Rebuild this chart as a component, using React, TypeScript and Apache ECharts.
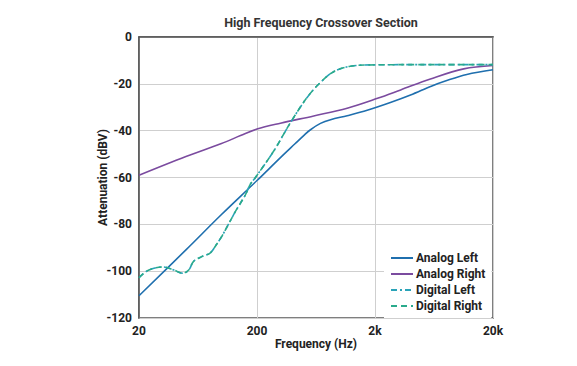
import React, { useEffect, useRef } from "react";
import * as echarts from "echarts";

const title = "High Frequency Crossover Section";
const xTickLabels = ["20", "200", "2k", "20k"];
const seriesNames = ["Analog Left", "Analog Right", "Digital Left", "Digital Right"];

const analogLeftHz = [20, 50, 100, 200, 316, 420, 500, 568, 690, 840, 1162, 1718, 2700, 4000, 6000, 8000, 12000, 20000];
const analogLeftDb = [-110.5, -90.9, -75.8, -61.3, -51.5, -45.6, -42, -39.6, -36.9, -35.3, -33.6, -31.3, -28, -24.8, -21, -18.7, -16, -14];

const analogRightHz = [20, 50, 100, 145, 200, 316, 605, 1162, 2100, 3300, 5900, 11300, 20000];
const analogRightDb = [-59, -51, -45.5, -42.1, -39.3, -36.8, -33.7, -30.4, -26.2, -22.6, -17.9, -13.6, -12.2];

const digitalHz = [20, 24, 32, 39, 47, 53, 58, 68, 80, 91, 101, 131, 159, 176, 194, 278, 385, 532, 690, 900, 1233, 2000, 5000, 20000];
const digitalLeftDb = [-102.8, -99.6, -98.2, -99.4, -100.9, -99.4, -95.8, -93.8, -92.3, -88.5, -85, -74.6, -67.5, -62.8, -60, -48.6, -36.5, -25.8, -19.4, -14.7, -12.5, -11.9, -11.8, -11.8];
const digitalRightDb = [-102.8, -99.6, -98.2, -99.4, -100.9, -99.4, -95.8, -93.8, -92.3, -88.5, -85, -74.6, -67.5, -62.8, -60, -48.6, -36.5, -25.8, -19.4, -14.7, -12.5, -11.9, -11.8, -11.8];

const toPts = (hz: number[], db: number[]) => hz.map((f, i) => [Math.log10(f / 20), db[i]]);

const FONT = "Roboto";

export default function App() {
  const ref = useRef<HTMLDivElement>(null);
  useEffect(() => {
    if (!ref.current) return;
    const chart = echarts.init(ref.current, null, { renderer: "svg" });
    const labelStyle = { fontFamily: FONT, fontWeight: "bold" as const, fontSize: 12, color: "#222" };
    chart.setOption({
      animation: false,
      backgroundColor: "#fff",
      title: {
        text: title,
        left: 316,
        top: 11,
        textAlign: "center",
        textStyle: { fontFamily: FONT, fontWeight: "bold", fontSize: 12.5, color: "#333" },
      },
      grid: {
        left: 139,
        right: 84,
        top: 37,
        bottom: 48,
        show: true,
        borderColor: "#555",
        borderWidth: 1.5,
      },
      xAxis: {
        type: "value",
        min: 0,
        max: 3,
        interval: 1,
        name: "Frequency (Hz)",
        nameLocation: "middle",
        nameGap: 20,
        nameMoveOverlap: false,
        nameTextStyle: { ...labelStyle },
        axisLine: { show: true, lineStyle: { color: "#555", width: 1.5 } },
        axisTick: { show: false },
        axisLabel: { ...labelStyle, margin: 7, formatter: (v: number) => xTickLabels[Math.round(v)] },
        splitLine: { show: true, lineStyle: { color: "#cfcfcf", width: 1 } },
      },
      yAxis: {
        type: "value",
        min: -120,
        max: 0,
        interval: 20,
        name: "Attenuation (dBV)",
        nameLocation: "middle",
        nameGap: 30,
        nameMoveOverlap: false,
        nameTextStyle: { ...labelStyle },
        axisLine: { show: true, lineStyle: { color: "#555", width: 1.5 } },
        axisTick: { show: false },
        axisLabel: { ...labelStyle, margin: 7 },
        splitLine: { show: true, lineStyle: { color: "#cfcfcf", width: 1 } },
      },
      legend: {
        orient: "vertical",
        left: 384,
        top: 249,
        data: seriesNames,
        itemWidth: 22,
        itemHeight: 10,
        itemGap: 4,
        backgroundColor: "#fff",
        padding: [3, 6, 6, 6],
        itemStyle: { opacity: 0 },
        textStyle: { ...labelStyle, lineHeight: 11, padding: [0, 0, 0, -2] },
      },
      series: [
        {
          name: seriesNames[0],
          type: "line",
          data: toPts(analogLeftHz, analogLeftDb),
          smooth: 0.35,
          symbol: "none",
          lineStyle: { color: "#1f6fae", width: 1.6 },
          itemStyle: { color: "#1f6fae" },
          z: 3,
        },
        {
          name: seriesNames[1],
          type: "line",
          data: toPts(analogRightHz, analogRightDb),
          smooth: 0.35,
          symbol: "none",
          lineStyle: { color: "#7b4b9f", width: 1.6 },
          itemStyle: { color: "#7b4b9f" },
          z: 3,
        },
        {
          name: seriesNames[2],
          type: "line",
          data: toPts(digitalHz, digitalLeftDb),
          smooth: 0.35,
          symbol: "none",
          lineStyle: { color: "#2aa3b8", width: 1.6, type: [6, 3, 2, 3] },
          itemStyle: { color: "#2aa3b8" },
          z: 4,
        },
        {
          name: seriesNames[3],
          type: "line",
          data: toPts(digitalHz, digitalRightDb),
          smooth: 0.35,
          symbol: "none",
          lineStyle: { color: "#2aaa8c", width: 1.6, type: [6, 4] },
          itemStyle: { color: "#2aaa8c" },
          z: 4,
        },
      ],
    });
    return () => chart.dispose();
  }, []);
  return <div ref={ref} style={{ width: 577, height: 366, position: "absolute", left: 0, top: 0 }} />;
}
